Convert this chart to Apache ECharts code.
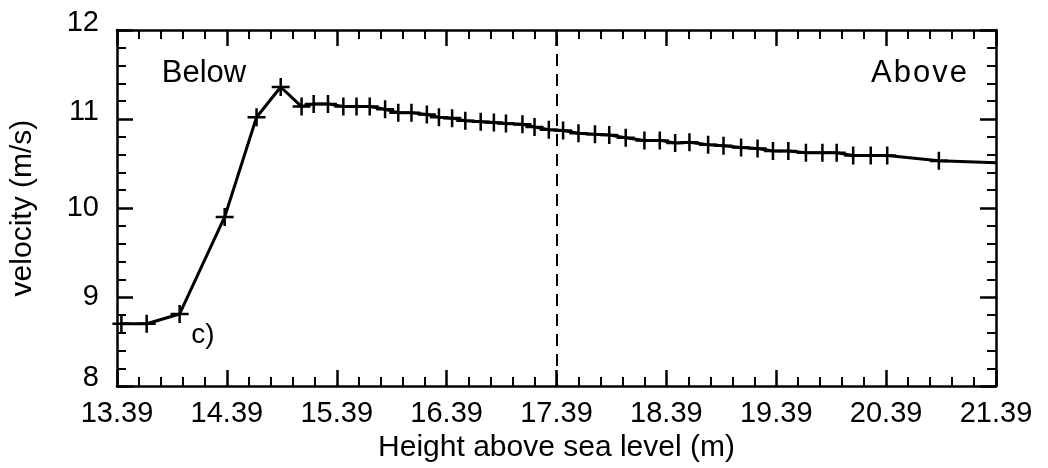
<!DOCTYPE html>
<html><head><meta charset="utf-8">
<script src="https://cdn.jsdelivr.net/npm/echarts@6/dist/echarts.min.js"></script>
<style>html,body{margin:0;padding:0;background:#fff}#c{width:1048px;height:468px}</style>
</head><body><div id="c"></div>
<script>
const heights = [13.43,13.66,13.96,14.37,14.66,14.88,15.07,15.18,15.31,15.45,15.57,15.69,15.83,15.95,16.07,16.21,16.32,16.44,16.56,16.70,16.82,16.93,17.08,17.19,17.32,17.45,17.59,17.74,17.87,18.02,18.19,18.33,18.47,18.60,18.77,18.91,19.07,19.22,19.36,19.50,19.66,19.81,19.94,20.09,20.25,20.40,20.87,21.39];
const velocities = [8.70,8.70,8.81,9.90,11.02,11.36,11.14,11.17,11.17,11.14,11.14,11.14,11.11,11.07,11.07,11.05,11.02,11.01,10.98,10.97,10.96,10.95,10.94,10.91,10.88,10.87,10.84,10.83,10.82,10.79,10.76,10.76,10.73,10.74,10.71,10.70,10.68,10.67,10.64,10.64,10.62,10.62,10.62,10.59,10.59,10.59,10.53,10.51];
const xTickLabels = ['13.39','14.39','15.39','16.39','17.39','18.39','19.39','20.39','21.39'];
const yTickLabels = ['8','9','10','11','12'];
const dividerHeight = 17.39;
const xName = 'Height above sea level (m)';
const yName = 'velocity (m/s)';

const FONT = 'Liberation Sans';
const xMin = parseFloat(xTickLabels[0]), xMax = parseFloat(xTickLabels[xTickLabels.length-1]);
const yMin = parseFloat(yTickLabels[0]), yMax = parseFloat(yTickLabels[yTickLabels.length-1]);
const crossPath = 'path://M-1.4,-10 L1.4,-10 L1.4,10 L-1.4,10 Z M-10,-1.4 L10,-1.4 L10,1.4 L-10,1.4 Z';

const pts = heights.map((h,i) => {
  const d = {value:[h, velocities[i]]};
  if (i === heights.length-1) d.symbol = 'none';
  return d;
});

// small per-label vertical nudges seen in the reference
const yLabelStyle = {
  y8:{padding:[0,0,16,0]}, y9:{padding:[0,0,0,0]}, y10:{padding:[0,0,0,0]},
  y11:{padding:[0,0,14,0]}, y12:{padding:[0,0,14,0]}
};

function xAxisCfg(pos, showLabel){
  return {
    type:'value', position:pos, min:xMin, max:xMax, interval:1,
    axisLine:{show:true, onZero:false, lineStyle:{color:'#000', width:2.5}},
    axisTick:{show:true, inside:true, length:16, lineStyle:{color:'#000', width:2.5}},
    minorTick:{show:true, splitNumber:5, length:9, lineStyle:{color:'#000', width:2}},
    splitLine:{show:false},
    axisLabel:{show:showLabel, margin:13, color:'#000', fontFamily:FONT, fontSize:29,
      formatter: v => v.toFixed(2)},
    name: showLabel ? xName : '', nameLocation:'middle', nameGap:45,
    nameTextStyle:{color:'#000', fontFamily:FONT, fontSize:30}
  };
}
function yAxisCfg(pos, showLabel){
  return {
    type:'value', position:pos, min:yMin, max:yMax, interval:1,
    axisLine:{show:true, onZero:false, lineStyle:{color:'#000', width:2.5}},
    axisTick:{show:true, inside:true, length:16, lineStyle:{color:'#000', width:2.5}},
    minorTick:{show:true, splitNumber:5, length:9, lineStyle:{color:'#000', width:2}},
    splitLine:{show:false},
    axisLabel:{show:showLabel, margin:18, color:'#000', fontFamily:FONT, fontSize:29,
      formatter: v => '{y' + Math.round(v) + '|' + Math.round(v) + '}', rich:yLabelStyle},
    name: showLabel ? yName : '', nameLocation:'middle', nameGap:79,
    nameTextStyle:{color:'#000', fontFamily:FONT, fontSize:30}
  };
}

const chart = echarts.init(document.getElementById('c'), null, {renderer:'canvas'});
chart.setOption({
  animation:false,
  backgroundColor:'#fff',
  grid:{left:116, right:52, top:30, bottom:77, containLabel:false},
  xAxis:[xAxisCfg('bottom', true), xAxisCfg('top', false)],
  yAxis:[yAxisCfg('left', true), yAxisCfg('right', false)],
  series:[{
    type:'line', xAxisIndex:0, yAxisIndex:0,
    data:pts, symbol:crossPath, symbolSize:18, showAllSymbol:true,
    lineStyle:{color:'#000', width:3},
    itemStyle:{color:'#000'},
    markLine:{
      silent:true, symbol:'none', label:{show:false},
      lineStyle:{color:'#000', width:2, type:[12,8]},
      data:[{xAxis:dividerHeight}]
    }
  }],
  graphic:[
    {type:'text', style:{text:'Below', x:204, y:73, align:'center', verticalAlign:'middle', font:'31px "Liberation Sans"', fill:'#000'}},
    {type:'text', style:{text:'{s|A}{s|b}{s|o}{s|v}{s|e}', x:919, y:73, align:'center', verticalAlign:'middle',
      font:'31px "Liberation Sans"', fill:'#000', rich:{s:{padding:[0,1,0,1], font:'31px "Liberation Sans"', fill:'#000'}}}},
    {type:'text', style:{text:'c)', x:203, y:335, align:'center', verticalAlign:'middle', font:'28px "Liberation Sans"', fill:'#000'}}
  ]
});
</script></body></html>
